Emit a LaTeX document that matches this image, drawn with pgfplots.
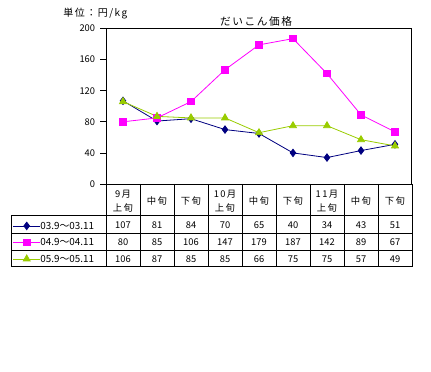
\documentclass[border=0pt]{standalone}
\usepackage{fontspec}
\setmainfont{Noto Sans CJK JP}
\newfontfamily\spaced[LetterSpace=15]{Noto Sans CJK JP}
\usepackage{pgfplots}
\pgfplotsset{compat=1.18}
\definecolor{cnavy}{HTML}{000080}
\definecolor{cmag}{HTML}{FF00FF}
\definecolor{cgreen}{HTML}{99CC00}
\pgfplotstableread{
x a b c
0 107 80 106
1 81 85 87
2 84 106 85
3 70 147 85
4 65 179 66
5 40 187 75
6 34 142 75
7 43 89 57
8 51 67 49
}\datatab
\newcommand{\sz}{\fontsize{7}{10.5}\selectfont}
\begin{document}
\begin{tikzpicture}
\path[use as bounding box] (0pt,0pt) rectangle (323.25pt,278.25pt);
\begin{axis}[
  at={(79.5pt,140.25pt)}, anchor=south west,
  scale only axis, width=229.5pt, height=116.6pt,
  xmin=-0.5, xmax=8.5, ymin=0, ymax=200,
  xtick={0,...,8},
  xticklabels={{9月\\上旬},中旬,下旬,{10月\\上旬},中旬,下旬,{11月\\上旬},中旬,下旬},
  x tick style={draw=none},
  xticklabel style={align=center, anchor=center, yshift=-8.25pt, font=\spaced\sz},
  ytick={0,40,...,200}, ytick pos=left, tick align=outside,
  major tick length=4.5pt,
  y tick style={black, line width=0.6pt},
  yticklabel style={font=\sz, inner sep=3.5pt},
  /pgf/number format/assume math mode=true,
  axis line style={line width=0.75pt},
  clip=false,
  legend style={at={(axis description cs:-0.304,-0.231)}, anchor=north west,
    draw=none, fill=none, inner sep=0pt, outer sep=0pt, row sep=3.4pt,
    font=\fontsize{7.4}{10}\selectfont, nodes={inner sep=0pt, text height=7pt, text depth=2pt},
    /tikz/every even column/.append style={column sep=3.5pt}},
  legend cell align=left,
  legend image code/.code={\draw[mark repeat=2,mark phase=2,#1] plot coordinates {(0pt,0pt) (10pt,0pt) (20pt,0pt)};},
]
\addplot[cnavy, line width=0.6pt, mark=diamond*, mark size=2.8pt, mark options={fill=cnavy}] table[x=x,y=a]{\datatab};
\addlegendentry{03.9～03.11}
\addplot[cmag, line width=0.6pt, mark=square*, mark size=2.4pt, mark options={fill=cmag}] table[x=x,y=b]{\datatab};
\addlegendentry{04.9～04.11}
\addplot[cgreen, line width=0.6pt, mark=triangle*, mark size=3pt, mark options={fill=cgreen}] table[x=x,y=c]{\datatab};
\addlegendentry{05.9～05.11}
\end{axis}
\begin{scope}[x=0.75pt,y=0.75pt]
\begin{scope}[line width=0.75pt]
\draw (11,155) -- (412,155);
\draw (11,137) -- (412,137);
\draw (11,120) -- (412,120);
\draw (11,104) -- (412,104);
\draw (11,155) -- (11,104);
\foreach \k in {0,...,9} { \draw ({106+34*\k},187) -- ({106+34*\k},104); }
\end{scope}
\foreach \v [count=\i from 0] in {107,81,84,70,65,40,34,43,51} { \node[font=\sz, inner sep=0pt] at ({123+34*\i},146) {\v}; }
\foreach \v [count=\i from 0] in {80,85,106,147,179,187,142,89,67} { \node[font=\sz, inner sep=0pt] at ({123+34*\i},128.5) {\v}; }
\foreach \v [count=\i from 0] in {106,87,85,85,66,75,75,57,49} { \node[font=\sz, inner sep=0pt] at ({123+34*\i},112) {\v}; }
\node[font=\spaced\fontsize{8}{10}\selectfont] at (256,350) {だいこん価格};
\node[font=\spaced\fontsize{7.5}{10}\selectfont, anchor=west, inner sep=0pt] at (63,357) {単位：円/kg};
\end{scope}
\end{tikzpicture}
\end{document}
